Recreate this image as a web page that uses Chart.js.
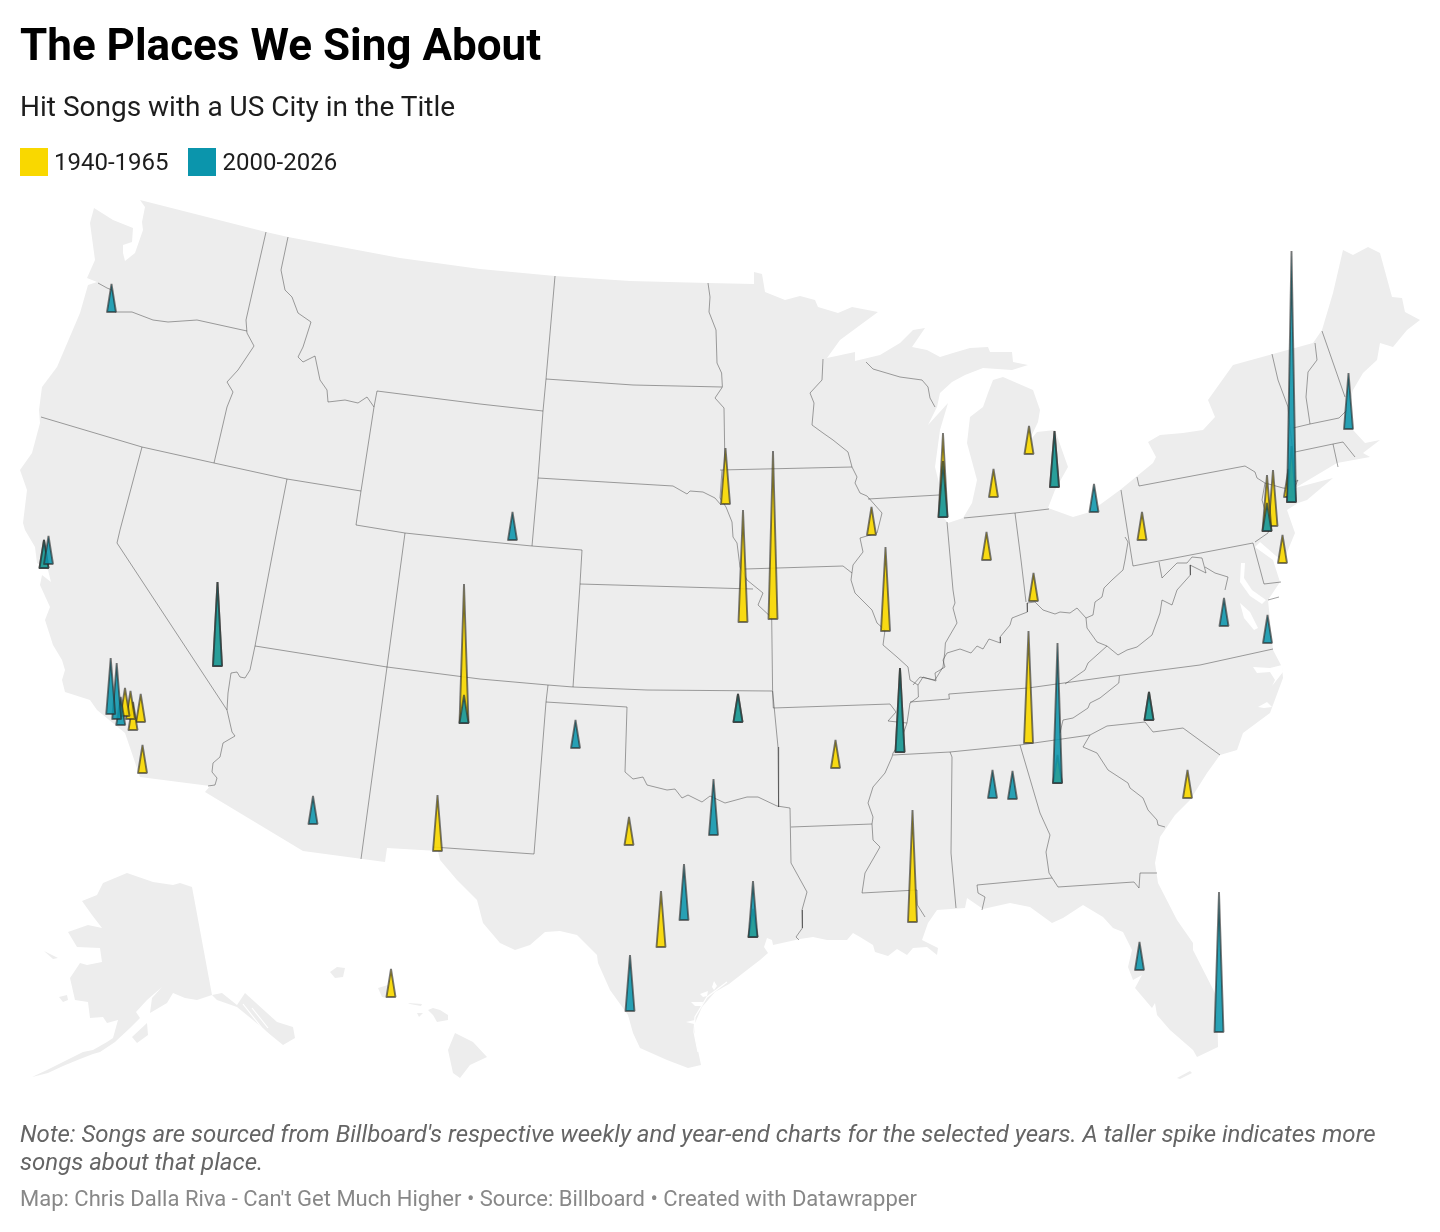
<!DOCTYPE html>
<html lang="en"><head><meta charset="utf-8">
<title>The Places We Sing About</title>
<script src="https://cdn.jsdelivr.net/npm/chart.js@4"></script>
<style>
html,body{margin:0;padding:0;background:#fff;width:1440px;height:1232px;overflow:hidden;font-family:Roboto,sans-serif}
canvas{position:absolute;left:0;top:0}
.t{position:absolute;left:20px;white-space:nowrap}
#title{top:19px;font-size:44px;line-height:52px;font-weight:700;color:#000}
#sub{top:90px;font-size:28px;line-height:34px;color:#1d1d1d}
.sw{position:absolute;top:148px;width:28px;height:28px}
.lg{position:absolute;top:147px;font-size:24px;line-height:30px;color:#1d1d1d;white-space:nowrap}
#note{top:1120px;font-size:24px;line-height:28px;font-style:italic;color:#656565;white-space:normal;width:1400px}
#foot{top:1185px;font-size:22px;line-height:28px;color:#888}
</style></head>
<body>
<canvas id="c" width="1440" height="1232"></canvas>
<div class="t" id="title">The Places We Sing About</div>
<div class="t" id="sub">Hit Songs with a US City in the Title</div>
<div class="sw" style="left:20px;background:#f9d800"></div><div class="lg" style="left:54px">1940-1965</div>
<div class="sw" style="left:188px;background:#0b95ac"></div><div class="lg" style="left:222.6px">2000-2026</div>
<div class="t" id="note">Note: Songs are sourced from Billboard's respective weekly and year-end charts for the selected years. A taller spike indicates more songs about that place.</div>
<div class="t" id="foot">Map: Chris Dalla Riva - Can't Get Much Higher • Source: Billboard • Created with Datawrapper</div>
<script>
// ---------- spike values: map position of each place and spike height ----------
const earlyX = [44,217.5,464,437.5,629,738,835.5,900,773,743,725.5,871.5,885.5,943,1029,1054.5,993.5,986.5,1033.5,1142,1028.5,1057.5,1149,1187.5,912.5,661,753,391,1291.5,1288.5,1267,1273,1282.5,125,130.5,133,140.7,142.5];
const earlyY = [568,666,723,851,845,722,768,752,619,622,504,535,631,517,454,487,497,560,601,540,743,783,720,798,922,947,937,997,502,497,531,526,563,716,719,730,722,773];
const earlyH = [28,84,139,56,28,28,28,84,168,112,56,28,84,84,28,56,28,28,28,28,112,28,28,28,112,56,28,28,56,28,56,56,28,28,28,28,28,28];
const lateX = [111.5,48.5,44,110.7,116.7,120.7,217.5,313,464,512.5,575.5,713.5,738,900,943,1054.5,1094,1057.5,992.5,1012.5,1149,684,753,630,1139.5,1219,1224,1267.5,1291.5,1348.5,1267];
const lateY = [312,564,568,714,719,725,666,824,723,540,748,835,722,752,517,487,512,783,798,799,720,920,937,1011,970,1032,626,643,502,429,531];
const lateH = [28,28,28,56,56,28,84,28,28,28,28,56,28,84,56,56,28,140,28,28,28,56,56,56,28,140,28,28,251,56,28];

// ---------- base map geometry (map units) ----------
const lower48 = [[140,200],[266,232],[288,237],[400,258],[480,269],[555,276],[630,281],[708,283],[754,284],[754,272],[762,274],[765,292],[785,300],[800,296],[815,300],[818,307],[838,313],[852,307],[878,312],[863,323],[840,340],[827,358],[855,352],[855,361],[880,355],[900,343],[913,330],[925,328],[912,347],[927,350],[940,357],[953,353],[970,348],[988,347],[990,352],[1012,352],[1013,362],[1028,365],[1012,370],[983,368],[965,375],[952,382],[940,393],[937,407],[928,425],[948,403],[940,430],[935,467],[942,495],[943,517],[948,523],[963,518],[972,503],[977,480],[967,443],[970,417],[983,407],[988,393],[993,380],[1003,377],[1033,390],[1040,410],[1038,422],[1028,443],[1037,432],[1055,430],[1068,467],[1055,490],[1048,508],[1073,517],[1090,512],[1120,490],[1153,463],[1156,457],[1148,442],[1160,435],[1183,433],[1203,430],[1215,417],[1208,400],[1233,365],[1313,343],[1322,330],[1333,293],[1343,250],[1353,255],[1368,247],[1380,253],[1392,297],[1402,298],[1405,312],[1420,320],[1407,330],[1393,347],[1380,343],[1377,360],[1363,373],[1353,390],[1348,410],[1353,430],[1365,443],[1380,440],[1363,453],[1370,457],[1337,463],[1295,488],[1333,478],[1307,500],[1298,503],[1287,510],[1295,533],[1283,562],[1260,542],[1255,547],[1273,560],[1280,582],[1268,600],[1273,650],[1282,667],[1283,678],[1270,713],[1243,733],[1237,750],[1220,755],[1207,773],[1190,800],[1175,815],[1160,837],[1155,863],[1158,883],[1177,920],[1193,943],[1193,950],[1217,997],[1218,1047],[1197,1057],[1193,1050],[1170,1030],[1157,1015],[1155,1003],[1152,1008],[1135,988],[1142,975],[1133,980],[1128,967],[1132,950],[1123,932],[1113,928],[1103,917],[1083,905],[1063,918],[1052,923],[1030,907],[1010,903],[983,909],[967,898],[965,908],[937,910],[928,923],[922,940],[938,948],[937,955],[927,947],[913,948],[907,955],[897,949],[888,956],[875,952],[873,945],[860,937],[853,933],[847,940],[827,940],[813,937],[800,939],[773,945],[772,940],[767,938],[764,947],[768,953],[760,960],[747,970],[729,984],[715,992],[702,1007],[695,1023],[695,1037],[700,1060],[701,1065],[688,1068],[667,1060],[640,1048],[633,1033],[628,1015],[610,990],[598,963],[597,955],[577,935],[560,931],[545,932],[530,945],[515,950],[500,943],[483,923],[477,900],[457,880],[440,860],[438,851],[387,848],[385,862],[303,851],[205,792],[210,786],[140,777],[125,733],[97,710],[90,700],[65,692],[62,680],[65,670],[62,660],[53,645],[45,620],[50,607],[40,585],[42,575],[51,582],[48,570],[37,563],[35,547],[25,530],[23,523],[27,490],[20,470],[32,453],[40,423],[39,410],[42,387],[57,367],[80,313],[88,285],[97,282],[87,278],[95,260],[90,223],[94,208],[113,220],[133,228],[132,242],[123,245],[123,253],[125,261],[135,253],[143,230],[142,222],[145,207],[140,200]];
const alaskaMain = [[192,887],[180,883],[173,885],[153,882],[127,873],[103,883],[97,895],[82,901],[92,915],[102,928],[88,925],[68,932],[77,947],[100,948],[102,962],[87,965],[80,963],[70,978],[75,1000],[88,1002],[90,1018],[103,1017],[107,1023],[118,1020],[113,1038],[107,1042],[93,1050],[83,1052],[63,1062],[47,1070],[32,1077],[48,1073],[63,1066],[80,1059],[93,1054],[100,1052],[115,1042],[130,1028],[140,1018],[136,1012],[147,1000],[162,987],[152,998],[150,1013],[167,1003],[173,993],[185,998],[197,1000],[212,995],[222,993],[237,1005],[245,993],[277,1022],[293,1027],[295,1038],[283,1045],[267,1032],[253,1020],[237,1007],[217,1000],[212,995],[192,887]];
const islands = [
 [[132,1037],[147,1023],[148,1035],[137,1043],[132,1037]],
 [[44,951],[58,958],[53,959],[44,951]],
 [[59,997],[67,995],[68,1000],[63,1002],[59,997]],
 [[330,972],[337,967],[345,968],[343,977],[335,978],[330,972]],
 [[378,988],[388,985],[387,998],[382,997],[378,988]],
 [[408,1003],[422,1004],[421,1006],[410,1004],[408,1003]],
 [[417,1013],[423,1013],[419,1017],[417,1013]],
 [[428,1010],[433,1008],[440,1010],[448,1015],[448,1020],[437,1022],[433,1015],[428,1010]],
 [[455,1033],[473,1042],[487,1057],[470,1065],[460,1078],[453,1073],[448,1050],[455,1033]],
 [[1177,1078],[1190,1071],[1192,1073],[1180,1079],[1177,1078]]
];
const waterCuts = [
 [[1241,563],[1245,563],[1244,578],[1252,590],[1266,600],[1262,604],[1250,596],[1240,582],[1241,563]],
 [[1240,603],[1250,612],[1258,628],[1254,630],[1244,618],[1240,603]],
 [[1253,667],[1257,673],[1270,672],[1275,680],[1272,686],[1283,672],[1282,665],[1270,668],[1253,667]],
 [[1258,707],[1267,702],[1272,707],[1264,708],[1258,707]],
 [[686,1022],[695,1020],[694,1024],[686,1022]],
 [[691,1002],[703,1002],[702,1006],[695,1006],[691,1002]],
 [[700,994],[708,991],[707,996],[703,997],[700,994]],
 [[712,987],[714,981],[717,986],[714,990],[712,987]]
];
const waterStrokes = [
 [[698,1052],[694,1032],[695,1017],[707,997],[727,982]],
 [[243,1004],[262,1028],[276,1042]],
 [[252,1008],[268,1028]],
 [[236,1008],[256,1030]]
];
const stateLines = [
 [[98,283],[107,288],[112,290],[115,312],[132,312],[153,320],[168,322],[197,320],[247,331]],
 [[266,232],[246,320],[247,333],[254,346],[238,370],[227,382],[233,392],[227,407],[214,463]],
 [[288,237],[281,270],[285,290],[292,297],[298,313],[311,322],[303,347],[298,357],[303,362],[315,356],[320,380],[327,390],[328,402],[345,400],[358,403],[367,397],[374,407]],
 [[41,417],[142,447],[214,463],[287,479],[361,491]],
 [[142,447],[120,530],[117,543],[227,710]],
 [[287,479],[277,530],[255,646],[250,670],[245,678],[240,677],[237,672],[231,673],[228,693],[227,710],[232,732],[235,736],[223,743],[220,757],[213,763],[212,772],[217,778],[215,785],[208,786]],
 [[255,646],[387,667],[480,679],[548,685],[573,687],[647,690],[772,691]],
 [[405,533],[387,667],[361,859]],
 [[377,391],[374,407],[361,491],[356,525],[405,533],[480,541],[532,546],[582,550]],
 [[377,391],[480,404],[543,411]],
 [[555,276],[546,379],[543,411],[538,478],[532,546]],
 [[546,379],[633,385],[722,387]],
 [[538,478],[673,486],[687,494],[690,491],[703,492],[715,498],[721,505]],
 [[708,283],[710,297],[709,312],[716,330],[717,363],[721.6,373],[722.4,387],[715,398],[724,408],[725,470]],
 [[720,470],[852,467]],
 [[722,470],[720,498],[726,507],[732,522],[733,537],[737,543],[740,567],[747,580],[763,593],[758,605],[772,618]],
 [[582,550],[580,584],[753,589]],
 [[580,584],[573,687]],
 [[745,569],[843,566],[852,573]],
 [[823,359],[822,380],[810,393],[814,403],[812,425],[823,433],[833,440],[848,452],[852,467],[857,477],[855,483],[860,493],[867,496],[882,513],[877,533],[860,538],[863,552],[853,565],[851,580],[855,593],[872,610],[877,623],[885,630],[883,645],[897,657],[908,667],[910,680],[918,685],[918.4,697],[910,703],[907,723],[900,743],[893,753],[892,757],[885,773],[873,787],[868,803],[873,817],[872,824],[873,840],[880,847],[865,873],[862,893]],
 [[868,499],[939,495]],
 [[866,362],[873,369],[900,377],[922,380],[928,387],[930,398],[935,407]],
 [[947,522],[953,590],[955,603],[953,608],[957,623],[945.4,643],[944.7,653],[943,667],[935,680],[920,677],[913,685]],
 [[771.7,618],[772.6,691],[773.3,708],[890,704],[896,712],[888,721],[907,723]],
 [[772.6,691],[778,747],[778.6,807]],
 [[627,707],[625,772],[633,779],[643,777],[647,785],[667,790],[675,789],[682,798],[688,795],[702,802],[710,796],[725,803],[747,797],[758,797],[777,806],[790,808],[791,863],[807,892],[802,910],[802.4,928],[796,937],[799,940]],
 [[548,685],[546,702],[534,854],[433,847]],
 [[546,702],[627,707]],
 [[791,827],[872,824]],
 [[862,893],[917,890],[917.4,905],[925,917]],
 [[893,755],[950,752],[1020,745],[1090,735],[1107,726],[1145,722],[1153,732],[1183,728],[1220,755]],
 [[950,752],[952,757],[951,853],[956,908]],
 [[1020,745],[1040,813],[1050,835],[1046,852],[1049,873],[1058,887],[1134,882],[1139,888],[1140,873],[1157,873]],
 [[977,885],[1052,878]],
 [[977,885],[978,893],[985,897],[982,910]],
 [[1090,735],[1083,747],[1097,753],[1108,770],[1128,783],[1130,788],[1143,798],[1148,810],[1157,820],[1158,825],[1165,827]],
 [[910,702],[949.4,699],[948.8,694],[1028,688],[1107,677],[1200,665],[1273,649]],
 [[1119.4,676],[1118.8,683],[1100,698],[1090,703],[1088,708],[1073,718],[1063,720],[1060,733]],
 [[1065,684],[1085,670],[1088,663],[1107,646],[1097,642],[1087,628],[1086,618],[1077,608],[1070,613],[1060,612],[1055,614],[1043,610],[1035,602],[1027,603],[1027.4,612],[1012,618],[1010,625],[1000,637],[1000.4,643],[989,639],[983,649],[977,646],[971,653],[960,649],[947,653],[943,660],[945,667],[935,673],[936,681],[923,677],[918,685]],
 [[1015,513],[1021,560],[1026,602]],
 [[964,518],[1015,513],[1049,509]],
 [[1121,490],[1133,566],[1253,543],[1264,584],[1281,582]],
 [[1125,537],[1128,542],[1125,560],[1123,570],[1112,580],[1104,588],[1102,597],[1095,602],[1093,615],[1086,618]],
 [[1137,477],[1139,486],[1245,466],[1255,472],[1257,478],[1265,483],[1283,488],[1295,489]],
 [[1265,483],[1262,500],[1270,527],[1268,533],[1255,542]],
 [[1159,562],[1162,578],[1177,563],[1187,563],[1192,557],[1202,558],[1206,573],[1190,565],[1190.4,575],[1177,590],[1172,605],[1162,600],[1160,613],[1152,635],[1137,647],[1127,650],[1118,655],[1107,646]],
 [[1205,567],[1215,573],[1228,577],[1225,590]],
 [[1272,354],[1278,380],[1288,407],[1290,428],[1293,452],[1295,482],[1298,480],[1290,497]],
 [[1293,428],[1310,424],[1339,418],[1347,410]],
 [[1315,343],[1317,360],[1308,372],[1306,397],[1310,424]],
 [[1322,331],[1345,397]],
 [[1295,452],[1333,444],[1343,442],[1355,457]],
 [[1333,444],[1338,467]],
 [[1268,600],[1279,597]]
];

// ---------- styling ----------
const SPIKE_HALF = 4.5;
const toPts = a => a.map(p => ({x:p[0], y:p[1]}));
const area = (a,color,order) => ({type:'line',data:toPts(a),fill:'shape',backgroundColor:color,borderWidth:0,pointRadius:0,tension:0,order});
const spike = (x,y,h,color,order) => ({type:'line',
  data:[{x:x-SPIKE_HALF,y},{x,y:y-h},{x:x+SPIKE_HALF,y},{x:x-SPIKE_HALF,y}],
  fill:'shape',backgroundColor:color,borderColor:'rgba(40,40,40,0.62)',borderWidth:1.9,
  borderJoinStyle:'bevel',borderCapStyle:'round',pointRadius:0,tension:0,order});

const datasets = [];
datasets.push(area(lower48,'#ededed',100), area(alaskaMain,'#ededed',100));
islands.forEach(a => datasets.push(area(a,'#ededed',100)));
waterCuts.forEach(a => datasets.push(area(a,'#ffffff',90)));
waterStrokes.forEach(a => datasets.push({type:'line',data:toPts(a),borderColor:'#ffffff',borderWidth:1.2,pointRadius:0,tension:0,fill:false,order:80}));
stateLines.forEach(a => datasets.push({type:'line',data:toPts(a),borderColor:'rgba(60,60,60,0.48)',borderWidth:1,pointRadius:0,tension:0,fill:false,order:50}));
earlyX.forEach((x,i) => datasets.push(spike(x,earlyY[i],earlyH[i],'rgba(249,216,0,0.92)',20)));
lateX.forEach((x,i) => datasets.push(spike(x,lateY[i],lateH[i],'rgba(11,149,172,0.88)',10)));

new Chart(document.getElementById('c'),{
  type:'line',
  data:{datasets},
  options:{
    responsive:false,animation:false,devicePixelRatio:1,
    layout:{padding:0},
    plugins:{legend:{display:false},tooltip:{enabled:false},title:{display:false},filler:{propagate:false}},
    scales:{
      x:{type:'linear',min:0,max:1440,display:false},
      y:{type:'linear',min:0,max:1232,reverse:true,display:false}
    }
  }
});
</script>
</body></html>
